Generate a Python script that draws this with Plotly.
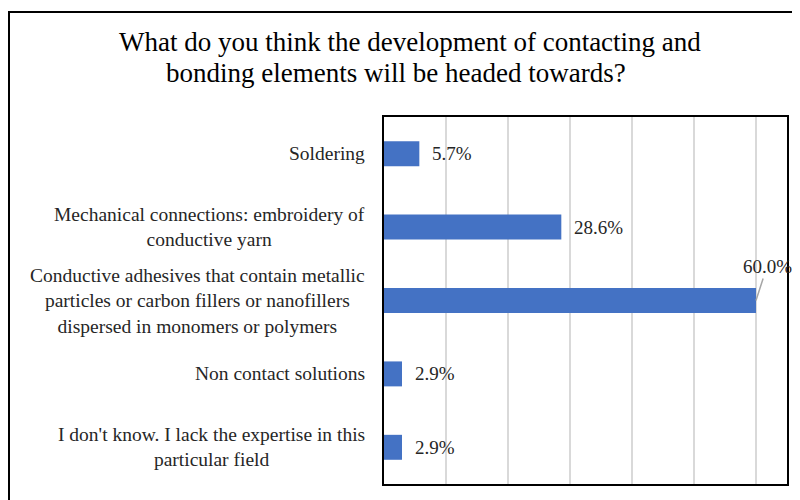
import plotly.graph_objects as go

categories = [
    "Soldering",
    "Mechanical connections: embroidery of<br>conductive yarn",
    "Conductive adhesives that contain metallic<br>particles or carbon fillers or nanofillers<br>dispersed in monomers or polymers",
    "Non contact solutions",
    "I don't know. I lack the expertise in this<br>particular field",
]
values = [5.7, 28.6, 60.0, 2.9, 2.9]
value_labels = ["5.7%", "28.6%", "60.0%", "2.9%", "2.9%"]
title_lines = [
    "What do you think the development of contacting and",
    "bonding elements will be headed towards?",
]

FONT = "Liberation Serif, Times New Roman, serif"
OFF = 8  # page body margin offset
W, H = 800, 500
# target screen positions of plot area: left 384, right 787, top 117, bottom 484
L = 384 - OFF
T = 117 - OFF
R = W - (787 - OFF)
B = H - (484 - OFF)
pw, ph = W - L - R, H - T - B

def px_x(p):
    return (p - OFF - L) / pw

def px_y(p):
    return (H - B - (p - OFF)) / ph

fig = go.Figure()
fig.add_trace(go.Bar(
    x=values, y=categories, orientation="h",
    marker=dict(color="#4472C4", line=dict(width=0)),
    width=0.34, hoverinfo="skip",
))

annotations = []
for cat, v, lab in zip(categories, values, value_labels):
    if v >= 50:
        annotations.append(dict(
            x=v, y=cat, xref="x", yref="y", text=lab, showarrow=True,
            arrowhead=0, arrowwidth=1.5, arrowcolor="#a6a6a6", ax=11, ay=-34,
            standoff=0, font=dict(family=FONT, size=19, color="#262626"),
        ))
    else:
        annotations.append(dict(
            x=v, y=cat, xref="x", yref="y", text=lab, showarrow=False,
            xanchor="left", xshift=11, font=dict(family=FONT, size=19, color="#262626"),
        ))
    annotations.append(dict(
        x=0, y=cat, xref="paper", yref="y", text=cat, showarrow=False,
        xanchor="right", xshift=-17, align="center",
        font=dict(family=FONT, size=19.5, color="#262626"),
    ))

annotations.append(dict(x=px_x(410), y=px_y(42), xref="paper", yref="paper",
                        text=title_lines[0], showarrow=False, xanchor="center", yanchor="middle",
                        font=dict(family=FONT, size=27, color="#000000")))
annotations.append(dict(x=px_x(396), y=px_y(73), xref="paper", yref="paper",
                        text=title_lines[1], showarrow=False, xanchor="center", yanchor="middle",
                        font=dict(family=FONT, size=27, color="#000000")))

fig.update_layout(
    width=W, height=H,
    margin=dict(l=L, r=R, t=T, b=B),
    paper_bgcolor="white", plot_bgcolor="white",
    showlegend=False,
    annotations=annotations,
    shapes=[dict(type="rect", xref="paper", yref="paper",
                 x0=px_x(9), x1=px_x(830), y0=px_y(12), y1=px_y(530),
                 line=dict(color="black", width=2), fillcolor="rgba(0,0,0,0)", layer="above")],
    xaxis=dict(range=[0, 65], dtick=10, showticklabels=False, ticks="",
               showgrid=True, gridcolor="#d9d9d9", gridwidth=2, zeroline=False,
               showline=True, linecolor="black", linewidth=2, mirror=True),
    yaxis=dict(categoryorder="array", categoryarray=categories, autorange="reversed",
               showticklabels=False, ticks="", showgrid=False, zeroline=False,
               showline=True, linecolor="black", linewidth=2, mirror=True),
)

fig.write_html("out.html")
